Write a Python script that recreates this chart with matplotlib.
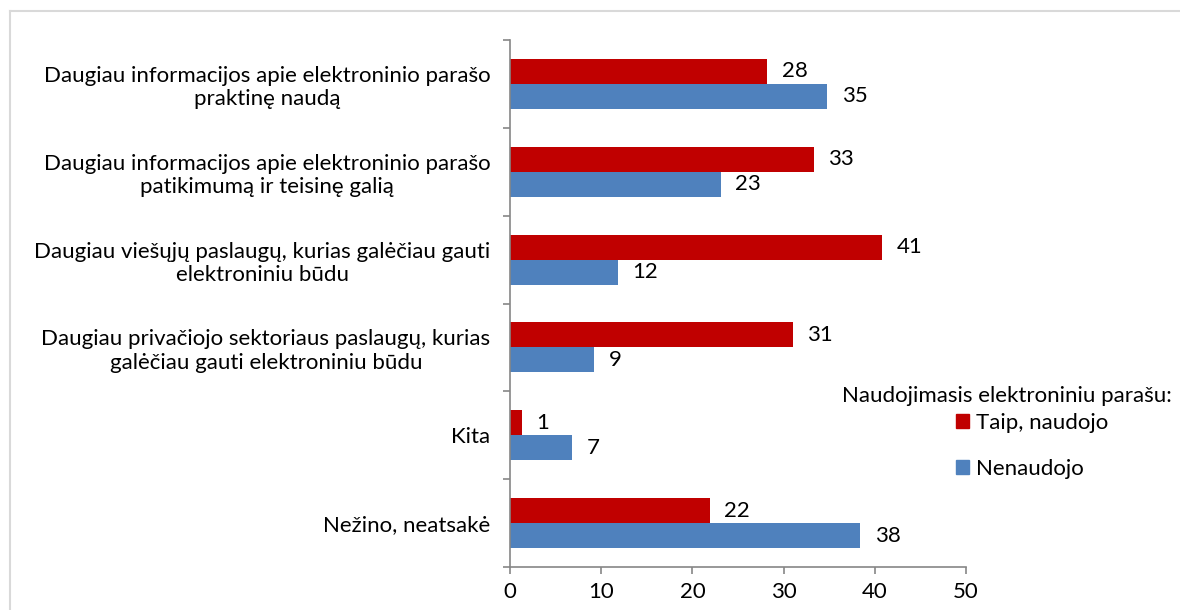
import matplotlib
matplotlib.use('Agg')
import matplotlib.pyplot as plt
import matplotlib.patches as mpatches
from matplotlib.lines import Line2D
import numpy as np

plt.rcParams['font.family'] = ['Lato', 'DejaVu Sans']

# duomenys
categories = [
    'Daugiau informacijos apie elektroninio parašo\npraktinę naudą',
    'Daugiau informacijos apie elektroninio parašo\npatikimumą ir teisinę galią',
    'Daugiau viešųjų paslaugų, kurias galėčiau gauti\nelektroniniu būdu',
    'Daugiau privačiojo sektoriaus paslaugų, kurias\ngalėčiau gauti elektroniniu būdu',
    'Kita',
    'Nežino, neatsakė',
]
taip = [28.2, 33.3, 40.8, 31.0, 1.3, 21.9]
nenaudojo = [34.8, 23.1, 11.8, 9.2, 6.8, 38.4]
series_names = ['Taip, naudojo', 'Nenaudojo']
legend_title = 'Naudojimasis elektroniniu parašu:'
x_ticks = [0, 10, 20, 30, 40, 50]

red = '#c00000'
blue = '#4f81bd'
grey = '#868686'
fs = 16

fig = plt.figure(figsize=(11.8, 6.1), dpi=100)
ax = fig.add_axes([510 / 1180, 43 / 610, 456 / 1180, 527 / 610])

y = np.arange(len(categories))
h = 0.285
ax.barh(y - h / 2, taip, height=h, color=red, label=series_names[0])
ax.barh(y + h / 2, nenaudojo, height=h, color=blue, label=series_names[1])

for i in range(len(categories)):
    ax.text(taip[i] + 1.6, y[i] - h / 2, '%.0f' % taip[i], va='center', ha='left', fontsize=fs)
    ax.text(nenaudojo[i] + 1.6, y[i] + h / 2, '%.0f' % nenaudojo[i], va='center', ha='left', fontsize=fs)

ax.set_xlim(0, 50)
ax.set_ylim(len(categories) - 0.5, -0.5)
ax.set_xticks(x_ticks)
ax.set_xticklabels([str(t) for t in x_ticks], fontsize=fs)

# kategorijų ribos kaip žymės
ax.set_yticks(np.arange(-0.5, len(categories), 1.0))
ax.set_yticklabels([])
ax.set_yticks(y, minor=True)
ax.set_yticklabels(categories, minor=True, fontsize=fs)
for lab in ax.get_yticklabels(minor=True):
    lab.set_multialignment('center')
ax.tick_params(axis='y', which='minor', length=0, pad=14)
ax.tick_params(axis='y', which='major', length=5, color=grey, width=1.2)
ax.tick_params(axis='x', length=5, color=grey, width=1.2, pad=6)

for s in ['top', 'right']:
    ax.spines[s].set_visible(False)
for s in ['left', 'bottom']:
    ax.spines[s].set_color(grey)
    ax.spines[s].set_linewidth(1.2)

# legenda
fig.text(1172 / 1180, 1 - 396 / 610, legend_title, ha='right', va='center', fontsize=fs)
handles = [mpatches.Patch(color=red), mpatches.Patch(color=blue)]
fig.legend(handles, series_names, loc='upper left', bbox_to_anchor=(956 / 1180, 1 - 413 / 610),
           frameon=False, fontsize=fs, handlelength=0.6, handleheight=0.6,
           handletextpad=0.3, labelspacing=1.15, borderpad=0, borderaxespad=0)

# rėmelis
fig.add_artist(Line2D([9.5 / 1180, 9.5 / 1180], [0, 1 - 11 / 610], transform=fig.transFigure,
                      color='#d9d9d9', lw=1.5))
fig.add_artist(Line2D([9.5 / 1180, 1], [1 - 11 / 610, 1 - 11 / 610], transform=fig.transFigure,
                      color='#d9d9d9', lw=1.5))

plt.savefig('out.png', dpi=100)
